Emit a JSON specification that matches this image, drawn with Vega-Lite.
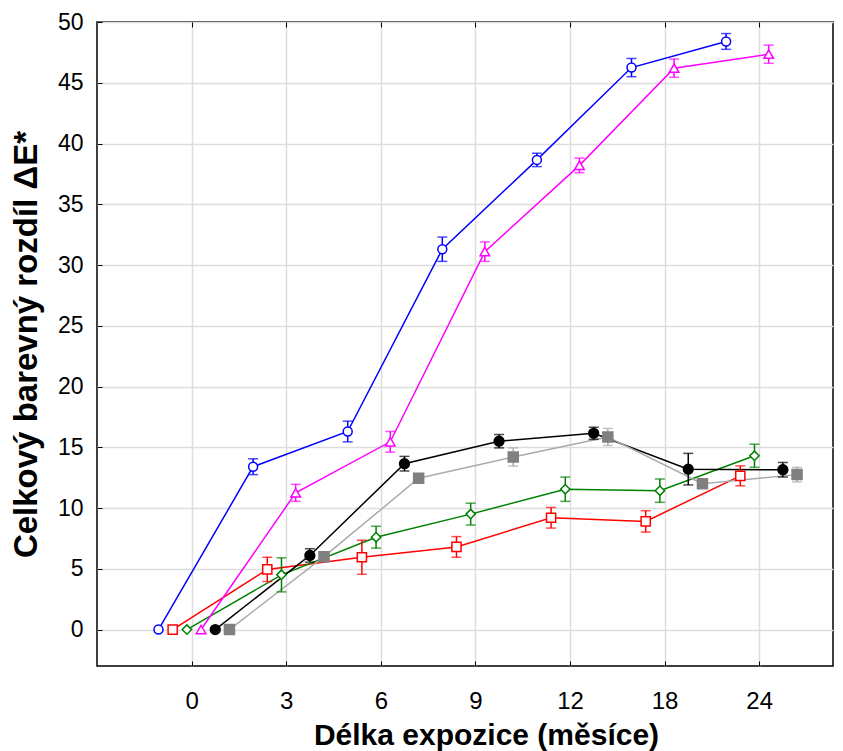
{
  "$schema": "https://vega.github.io/schema/vega-lite/v6.json",
  "width": 736,
  "height": 644,
  "autosize": {"type": "none"},
  "padding": {"left": 97, "top": 22, "right": 10, "bottom": 85},
  "background": "white",
  "config": {
    "view": {"stroke": "#000000", "strokeWidth": 1.5},
    "axis": {"labelFont": "Liberation Sans, Arial", "titleFont": "Liberation Sans, Arial", "labelColor": "#000000", "titleColor": "#000000", "gridColor": "#dddddd", "gridWidth": 1.5, "domain": false, "tickColor": "#000000"}
  },
  "data": {"values": [
    {"s": "A", "m": 0, "x": -0.35, "y": 0, "e": 0},
    {"s": "A", "m": 3, "x": 0.65, "y": 13.4, "e": 0.65},
    {"s": "A", "m": 6, "x": 1.65, "y": 16.3, "e": 0.85},
    {"s": "A", "m": 9, "x": 2.65, "y": 31.3, "e": 1.0},
    {"s": "A", "m": 12, "x": 3.65, "y": 38.65, "e": 0.55},
    {"s": "A", "m": 18, "x": 4.65, "y": 46.25, "e": 0.75},
    {"s": "A", "m": 24, "x": 5.65, "y": 48.4, "e": 0.65},
    {"s": "B", "m": 0, "x": -0.2, "y": 0, "e": 0},
    {"s": "B", "m": 3, "x": 0.8, "y": 4.95, "e": 1.0},
    {"s": "B", "m": 6, "x": 1.8, "y": 5.95, "e": 1.4},
    {"s": "B", "m": 9, "x": 2.8, "y": 6.8, "e": 0.85},
    {"s": "B", "m": 12, "x": 3.8, "y": 9.2, "e": 0.85},
    {"s": "B", "m": 18, "x": 4.8, "y": 8.9, "e": 0.88},
    {"s": "B", "m": 24, "x": 5.8, "y": 12.65, "e": 0.82},
    {"s": "C", "m": 0, "x": -0.05, "y": 0, "e": 0},
    {"s": "C", "m": 3, "x": 0.95, "y": 4.5, "e": 1.4},
    {"s": "C", "m": 6, "x": 1.95, "y": 7.6, "e": 0.9},
    {"s": "C", "m": 9, "x": 2.95, "y": 9.5, "e": 0.9},
    {"s": "C", "m": 12, "x": 3.95, "y": 11.55, "e": 1.0},
    {"s": "C", "m": 18, "x": 4.95, "y": 11.43, "e": 0.96},
    {"s": "C", "m": 24, "x": 5.95, "y": 14.3, "e": 0.95},
    {"s": "D", "m": 0, "x": 0.1, "y": 0, "e": 0},
    {"s": "D", "m": 3, "x": 1.1, "y": 11.25, "e": 0.7},
    {"s": "D", "m": 6, "x": 2.1, "y": 15.45, "e": 0.85},
    {"s": "D", "m": 9, "x": 3.1, "y": 31.1, "e": 0.8},
    {"s": "D", "m": 12, "x": 4.1, "y": 38.2, "e": 0.6},
    {"s": "D", "m": 18, "x": 5.1, "y": 46.2, "e": 0.75},
    {"s": "D", "m": 24, "x": 6.1, "y": 47.35, "e": 0.75},
    {"s": "E", "m": 0, "x": 0.25, "y": 0, "e": 0},
    {"s": "E", "m": 3, "x": 1.25, "y": 6.1, "e": 0.55},
    {"s": "E", "m": 6, "x": 2.25, "y": 13.65, "e": 0.6},
    {"s": "E", "m": 9, "x": 3.25, "y": 15.5, "e": 0.55},
    {"s": "E", "m": 12, "x": 4.25, "y": 16.15, "e": 0.5},
    {"s": "E", "m": 18, "x": 5.25, "y": 13.2, "e": 1.3},
    {"s": "E", "m": 24, "x": 6.25, "y": 13.15, "e": 0.6},
    {"s": "F", "m": 0, "x": 0.4, "y": 0, "e": 0},
    {"s": "F", "m": 3, "x": 1.4, "y": 6.0, "e": 0.3},
    {"s": "F", "m": 6, "x": 2.4, "y": 12.45, "e": 0.25},
    {"s": "F", "m": 9, "x": 3.4, "y": 14.2, "e": 0.75},
    {"s": "F", "m": 12, "x": 4.4, "y": 15.85, "e": 0.7},
    {"s": "F", "m": 18, "x": 5.4, "y": 12.0, "e": 0.3},
    {"s": "F", "m": 24, "x": 6.4, "y": 12.75, "e": 0.6}
  ]},
  "resolve": {"axis": {"x": "independent", "y": "independent"}},
  "layer": [
    {
      "mark": {"type": "line", "strokeWidth": 1.5},
      "encoding": {
        "x": {"field": "x", "type": "quantitative", "scale": {"domain": [-1, 6.78], "nice": false, "zero": false},
          "axis": {"values": [0, 1, 2, 3, 4, 5, 6], "labelExpr": "['0','3','6','9','12','18','24'][datum.value]", "grid": true, "tickSize": -5, "labelPadding": 28, "labelFontSize": 24, "title": "Délka expozice (měsíce)", "titleFontSize": 30, "titleFontWeight": "bold", "titlePadding": 7, "titleX": 389}},
        "y": {"field": "y", "type": "quantitative", "scale": {"domain": [-3, 50], "nice": false, "zero": false},
          "axis": {"values": [0, 5, 10, 15, 20, 25, 30, 35, 40, 45, 50], "grid": true, "tickSize": -5, "labelPadding": 19, "labelFontSize": 23, "title": "Celkový barevný rozdíl ΔE*", "titleFontSize": 33, "titleFontWeight": "bold", "titlePadding": 14}},
        "color": {"field": "s", "type": "nominal", "scale": {"domain": ["A", "B", "C", "D", "E", "F"], "range": ["#0000ff", "#ff0000", "#008000", "#ff00ff", "#000000", "#aaaaaa"]}, "legend": null},
        "order": {"field": "x", "type": "quantitative"}
      }
    },
    {
      "transform": [{"filter": "datum.e > 0"}],
      "mark": {"type": "errorbar", "ticks": {"size": 10, "thickness": 1.5}, "rule": {"strokeWidth": 1.5}},
      "encoding": {
        "x": {"field": "x", "type": "quantitative", "axis": null},
        "y": {"field": "y", "type": "quantitative", "axis": null},
        "yError": {"field": "e"},
        "color": {"field": "s", "type": "nominal", "legend": null}
      }
    },
    {
      "mark": {"type": "point", "strokeWidth": 1.5, "opacity": 1},
      "encoding": {
        "x": {"field": "x", "type": "quantitative",
          "axis": {"orient": "top", "values": [0, 1, 2, 3, 4, 5, 6], "labels": false, "grid": false, "tickSize": -5, "title": null}},
        "y": {"field": "y", "type": "quantitative", "axis": null},
        "shape": {"field": "s", "type": "nominal", "scale": {"domain": ["A", "B", "C", "D", "E", "F"], "range": ["circle", "square", "diamond", "triangle-up", "circle", "square"]}, "legend": null},
        "size": {"field": "s", "type": "nominal", "scale": {"domain": ["A", "B", "C", "D", "E", "F"], "range": [80, 100, 80, 80, 130, 200]}, "legend": null},
        "stroke": {"field": "s", "type": "nominal", "scale": {"domain": ["A", "B", "C", "D", "E", "F"], "range": ["#0000ff", "#ff0000", "#008000", "#ff00ff", "#000000", "#808080"]}, "legend": null},
        "fill": {"field": "s", "type": "nominal", "scale": {"domain": ["A", "B", "C", "D", "E", "F"], "range": ["#ffffff", "#ffffff", "#ffffff", "#ffffff", "#000000", "#808080"]}, "legend": null}
      }
    }
  ]
}
